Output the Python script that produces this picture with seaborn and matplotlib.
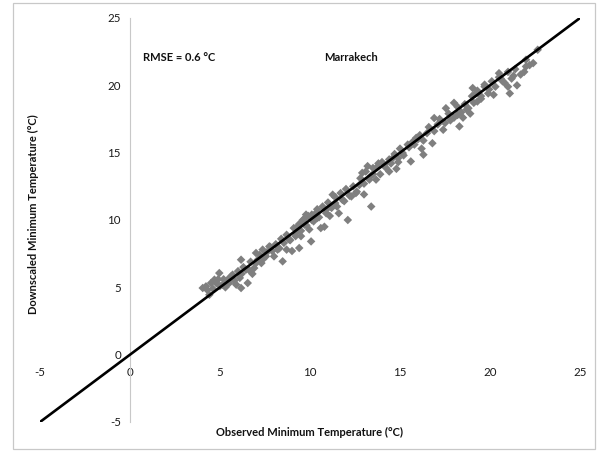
import matplotlib
matplotlib.use("Agg")
import matplotlib.pyplot as plt
from matplotlib.patches import Rectangle
import seaborn as sns
import pandas as pd

# Observed vs downscaled daily minimum temperatures (°C), Marrakech
observed = [
    4.04, 4.22, 4.41, 4.5, 4.69, 4.96, 4.9, 5.15, 5.43, 5.5, 5.7, 5.9, 6.17, 6.17, 6.2,
    6.44, 6.54, 6.8, 6.9, 7.0, 7.1, 7.3, 7.37, 7.55, 7.74, 7.9, 8.0, 8.2, 8.48, 8.55,
    8.7, 8.85, 9.0, 9.22, 9.3, 9.4, 9.5, 9.6, 9.7, 9.78, 9.96, 10.06, 10.1, 10.33, 10.4,
    10.6, 10.8, 10.9, 11.1, 11.17, 11.26, 11.4, 11.6, 11.8, 12.1, 12.3, 12.55, 12.74, 12.9,
    13.0, 13.2, 13.4, 13.4, 13.5, 13.8, 13.67, 14.13, 14.4, 14.6, 14.8, 14.9, 15.15, 15.43,
    15.6, 15.7, 15.9, 16.1, 16.2, 16.3, 16.5, 16.8, 16.9, 17.1, 17.4, 17.55, 17.8, 18.0,
    18.2, 18.3, 18.5, 18.7, 18.9, 19.04, 19.2, 19.3, 19.5, 19.7, 19.95, 20.2, 20.5, 20.6,
    20.7, 21.0, 21.1, 21.3, 21.5, 21.9, 22.0, 22.4, 22.65,
    4.3, 4.6, 4.8, 5.0, 5.2, 5.3, 5.6, 5.8, 6.0, 6.1, 6.3, 6.6, 6.7, 7.0, 7.2, 7.4, 7.6,
    7.8, 8.1, 8.3, 8.4, 8.7, 8.9, 9.1, 9.2, 9.4, 9.5, 9.7, 9.8, 9.9, 10.1, 10.2, 10.4,
    10.5, 10.7, 10.9, 11.0, 11.2, 11.4, 11.5, 11.7, 11.9, 12.0, 12.2, 12.4, 12.6, 12.8,
    13.0, 13.1, 13.3, 13.5, 13.7, 13.9, 14.0, 14.2, 14.4, 14.5, 14.7, 14.9, 15.0, 15.2,
    15.5, 15.8, 16.0, 16.3, 16.6, 16.9, 17.2, 17.5, 17.7, 18.0, 18.2, 18.4, 18.6, 18.8,
    19.0, 19.1, 19.3, 19.5, 19.7, 19.9, 20.1, 20.3, 20.5, 20.8, 21.0, 21.2, 21.4, 21.7,
    22.0, 22.2,
]
downscaled = [
    4.95, 5.07, 4.45, 5.32, 5.57, 6.06, 5.6, 5.2, 5.57, 5.3, 5.94, 5.2, 7.05, 4.95, 6.0,
    6.31, 5.32, 6.0, 6.43, 7.55, 7.05, 6.8, 7.8, 7.3, 8.04, 7.7, 7.3, 7.8, 6.93, 8.3,
    7.8, 8.54, 7.7, 9.03, 9.5, 7.92, 8.8, 10.0, 9.65, 10.4, 9.3, 8.41, 10.0, 10.52, 10.15,
    9.4, 9.5, 10.76, 10.3, 11.0, 11.88, 11.26, 10.5, 11.5, 10.0, 11.75, 12.0, 12.6, 13.5,
    11.9, 14.0, 11.0, 13.3, 13.86, 14.2, 13.0, 14.1, 13.6, 14.6, 13.8, 14.3, 14.97, 15.6,
    14.35, 15.8, 16.1, 16.3, 15.3, 14.85, 16.45, 15.7, 17.57, 17.1, 16.7, 18.3, 17.4, 18.7,
    17.8, 16.95, 17.6, 18.2, 17.9, 19.8, 19.4, 18.8, 19.2, 20.05, 19.7, 19.3, 20.9, 20.5,
    20.3, 19.9, 19.4, 20.7, 20.0, 21.0, 21.4, 21.65, 22.64,
    4.8, 4.9, 5.3, 5.1, 5.6, 5.0, 5.8, 5.5, 6.2, 5.7, 6.5, 6.3, 6.9, 6.8, 7.4, 7.1, 7.6,
    8.0, 8.2, 7.9, 8.6, 8.9, 8.5, 9.4, 8.8, 9.7, 9.2, 10.1, 9.6, 10.3, 10.4, 9.9, 10.8,
    10.2, 11.0, 10.5, 11.3, 10.9, 11.7, 11.0, 12.0, 11.4, 12.3, 11.8, 12.5, 12.1, 13.1,
    12.7, 13.6, 13.0, 13.4, 13.9, 13.4, 14.3, 13.9, 14.5, 14.2, 14.9, 14.6, 15.3, 14.8,
    15.4, 15.6, 16.0, 15.9, 16.9, 16.6, 17.5, 17.2, 17.9, 17.6, 18.4, 18.0, 18.6, 18.3,
    19.2, 18.7, 19.6, 19.0, 19.9, 19.4, 20.3, 19.9, 20.6, 20.2, 21.0, 20.5, 21.2, 20.8,
    21.9, 21.5,
]

# 1:1 reference line
line_x = [-5, 25]
line_y = [-5, 25]

ticks = [-5, 0, 5, 10, 15, 20, 25]

sns.set_style("white")
plt.rcParams["font.family"] = ["Lato", "DejaVu Sans"]

df = pd.DataFrame({"obs": observed, "down": downscaled})
lines = pd.DataFrame({"x": line_x, "y": line_y})

fig = plt.figure(figsize=(5.98, 4.51), dpi=100)
ax = fig.add_axes([40 / 598, 1 - 422 / 451, 540 / 598, 404 / 451])

sns.scatterplot(data=df, x="obs", y="down", ax=ax, marker="D", s=19,
                color="#7f7f7f", edgecolor="none", linewidth=0, zorder=2)
sns.lineplot(data=lines, x="x", y="y", ax=ax, color="black", linewidth=1.9,
             zorder=3)

ax.set_xlim(-5, 25)
ax.set_ylim(-5, 25)
ax.set_xticks(ticks)
ax.set_yticks(ticks)
ax.set_xticklabels([str(t) for t in ticks])
ax.set_yticklabels([str(t) for t in ticks])
ax.set_xlabel("")
ax.set_ylabel("")

for side in ("top", "right"):
    ax.spines[side].set_visible(False)
ax.spines["left"].set_position(("data", 0))
ax.spines["left"].set_color("#c8c8c8")
ax.spines["left"].set_linewidth(0.8)
ax.spines["bottom"].set_position(("data", 0))
ax.spines["bottom"].set_color("none")

ax.tick_params(axis="both", direction="out", length=3.5, width=0.7,
               color="#c0c0c0", labelsize=8.3, labelcolor="#1a1a1a")
ax.tick_params(axis="x", pad=5.5)
ax.tick_params(axis="y", pad=3)
ax.patch.set_alpha(0)

ax.text(0.72, 22.1, "RMSE = 0.6 °C", fontsize=8, fontweight="bold",
        color="#111111", va="center", ha="left")
ax.text(10.8, 22.1, "Marrakech", fontsize=8, fontweight="bold",
        color="#111111", va="center", ha="left")

fig.text(310 / 598, 1 - 432 / 451, "Observed Minimum Temperature (°C)",
         fontsize=8, fontweight="bold", ha="center", va="center", color="#111111")
fig.text(33 / 598, 1 - 214 / 451, "Downscaled Minimum Temperature (°C)",
         fontsize=8, fontweight="bold", ha="center", va="center",
         rotation=90, color="#111111")

fig.patches.append(Rectangle((13 / 598, 2 / 451), 582 / 598, 446 / 451,
                             transform=fig.transFigure, fill=False,
                             edgecolor="#c8c8c8", linewidth=0.9))

fig.savefig("out.png", dpi=100)
